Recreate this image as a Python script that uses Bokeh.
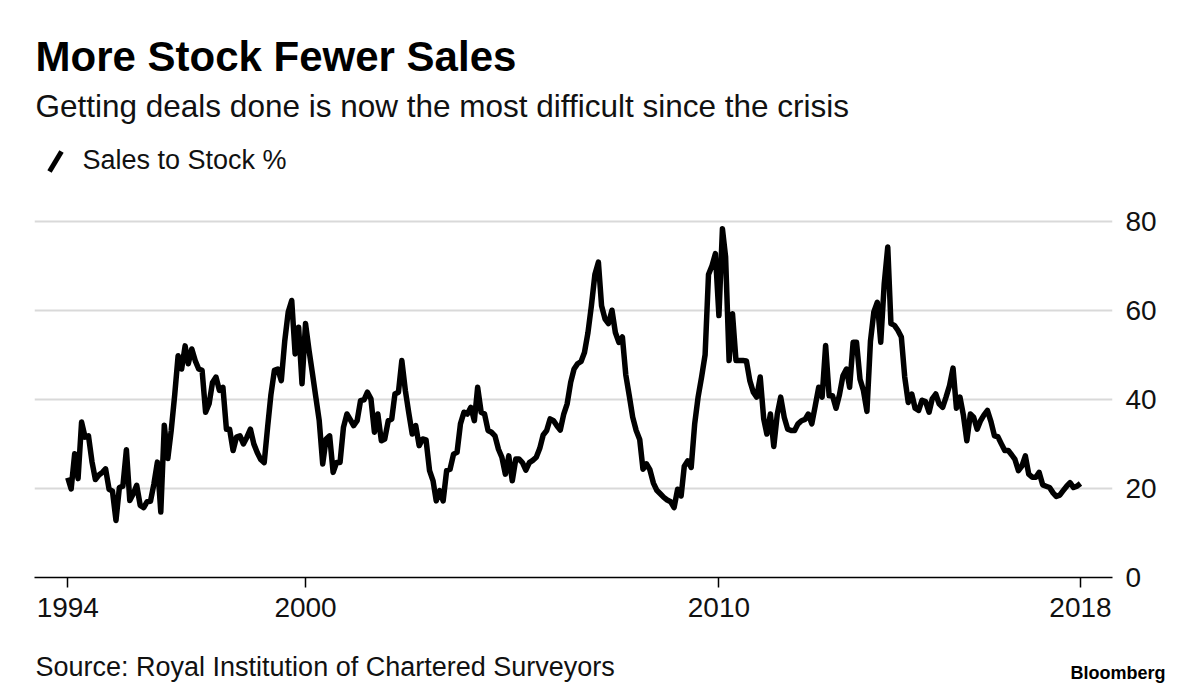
import pandas as pd
from bokeh.plotting import figure
from bokeh.layouts import column
from bokeh.models import Range1d, FixedTicker, DatetimeTickFormatter
from bokeh.core.properties import value
from bokeh.embed import file_html
from bokeh.resources import INLINE

# ---------------- data ----------------
first_month = "1994-04-01"
sales_to_stock = [
    22.4, 19.9, 27.8, 22.2, 34.9, 31.5, 31.8, 26.0, 22.0, 23.0,
    23.6, 24.4, 19.8, 19.4, 12.8, 20.2, 20.5, 28.7, 17.3, 18.8,
    20.7, 16.2, 15.7, 17.0, 17.1, 21.0, 25.9, 14.7, 34.2, 26.7,
    33.0, 41.0, 49.8, 46.8, 52.0, 48.0, 51.3, 48.7, 46.8, 46.5,
    37.1, 39.0, 43.8, 45.0, 42.0, 42.7, 33.3, 33.3, 28.5, 31.5,
    31.8, 30.0, 31.5, 33.3, 30.0, 28.0, 26.5, 25.8, 34.0, 41.0,
    46.5, 46.8, 44.2, 53.0, 59.6, 62.2, 50.2, 56.2, 43.5, 57.0,
    51.0, 46.0, 40.5, 35.2, 25.5, 31.1, 31.8, 23.6, 25.8, 25.8,
    33.7, 36.7, 35.4, 34.1, 35.2, 39.7, 39.9, 41.6, 40.1, 32.6,
    36.7, 30.7, 31.1, 35.2, 35.6, 41.2, 41.6, 48.7, 42.0, 37.0,
    32.2, 34.1, 29.6, 31.1, 30.9, 24.0, 21.7, 17.2, 19.5, 17.2,
    24.0, 24.3, 27.7, 28.1, 34.5, 37.1, 36.7, 38.2, 35.2, 42.7,
    37.1, 36.7, 33.0, 32.6, 31.8, 28.8, 27.0, 23.2, 27.3, 21.7,
    26.6, 26.6, 25.8, 24.1, 25.8, 26.3, 27.0, 29.0, 32.0, 33.0,
    35.6, 35.2, 34.0, 33.1, 36.7, 39.0, 43.8, 46.8, 48.0, 48.5,
    50.5, 55.0, 61.0, 68.0, 70.8, 61.0, 58.0, 57.0, 60.0, 55.0,
    52.8, 54.0, 45.5, 40.8, 36.0, 33.0, 31.0, 24.3, 25.5, 24.2,
    21.2, 19.6, 18.8, 18.0, 17.4, 17.0, 15.7, 19.8, 18.3, 25.0,
    26.2, 24.7, 34.5, 40.5, 45.0, 50.0, 68.0, 70.0, 72.7, 58.8,
    78.3, 72.0, 48.7, 59.2, 48.7, 48.7, 48.7, 48.6, 44.2, 41.6,
    40.5, 45.0, 35.6, 32.2, 36.7, 29.4, 36.7, 40.5, 36.0, 33.3,
    33.0, 33.0, 34.5, 35.2, 35.5, 36.7, 34.5, 38.5, 42.7, 40.5,
    52.1, 40.8, 40.8, 38.0, 41.0, 45.3, 46.8, 42.7, 52.8, 52.8,
    44.5, 42.0, 37.3, 53.0, 59.6, 61.8, 52.8, 66.0, 74.2, 57.0,
    56.6, 55.5, 54.0, 45.0, 39.3, 41.2, 38.0, 37.5, 39.8, 39.5,
    37.1, 40.1, 41.2, 39.0, 38.2, 40.5, 43.1, 47.0, 38.0, 40.5,
    36.5, 30.7, 36.7, 36.0, 33.3, 35.2, 36.5, 37.5, 35.0, 31.8,
    31.6, 30.0, 28.5, 28.5, 27.5, 26.5, 24.0, 25.0, 27.3, 23.2,
    22.5, 22.5, 23.6, 20.8, 20.5, 20.2, 19.0, 18.2, 18.5, 19.5,
    20.5, 21.3, 20.2, 20.5, 21.1,
]
x_tick_dates = ["1994-04-01", "2000-01-01", "2010-01-01", "2018-10-01"]
y_ticks = [0, 20, 40, 60, 80]

title_text = "More Stock Fewer Sales"
subtitle_text = "Getting deals done is now the most difficult since the crisis"
legend_text = "Sales to Stock %"
source_text = "Source: Royal Institution of Chartered Surveyors"
brand_text = "Bloomberg"

dates = pd.date_range(first_month, periods=len(sales_to_stock), freq="MS")


def ms(d):
    return pd.Timestamp(d).timestamp() * 1000.0


FONT = "Liberation Sans"
W = 1184
HEAD_H, MAIN_H, FOOT_H = 200, 437, 53


def no_frame_align(f):
    if "frame_align" in f.properties():
        f.frame_align = False


def text_panel(h):
    f = figure(width=W, height=h, output_backend="svg", toolbar_location=None,
               x_axis_location=None, y_axis_location=None, title=None,
               x_range=Range1d(0, W), y_range=Range1d(h, 0), min_border=0)
    f.outline_line_color = None
    f.xgrid.visible = False
    f.ygrid.visible = False
    f.background_fill_color = "white"
    f.border_fill_color = "white"
    no_frame_align(f)
    return f


def put(f, x, y, text, size, bold=False, align="left", color="#111111"):
    f.text(x=[x], y=[y], text=[text], text_font=value(FONT),
           text_font_style="bold" if bold else "normal", text_font_size=size,
           text_color=color, text_baseline="alphabetic", text_align=align)


# ---------------- header ----------------
head = text_panel(HEAD_H)
put(head, 35, 56, title_text, "42px", bold=True, color="black")
put(head, 35, 105, subtitle_text, "31.5px")
head.line(x=[49, 61], y=[171, 151], line_color="black", line_width=5)
put(head, 82, 159, legend_text, "27px")

# ---------------- main chart ----------------
p = figure(
    width=W, height=MAIN_H, output_backend="svg", toolbar_location=None,
    x_axis_type="datetime", y_axis_location="right", title=None,
    x_range=Range1d(ms("1993-06-11"), ms("2019-07-11")),
    y_range=Range1d(0, 84.64),
    min_border_left=34, min_border_right=72, min_border_top=0, min_border_bottom=60,
)
no_frame_align(p)
p.outline_line_color = None
p.background_fill_color = "white"
p.border_fill_color = "white"

p.line(dates, sales_to_stock, line_color="black", line_width=5.5, line_join="round")

xa = p.xaxis[0]
xa.ticker = FixedTicker(ticks=[ms(d) for d in x_tick_dates])
xa.formatter = DatetimeTickFormatter(years="%Y", months="%Y", days="%Y", hours="%Y",
                                     minutes="%Y", seconds="%Y", milliseconds="%Y",
                                     microseconds="%Y", hourmin="%Y", minsec="%Y")
xa.axis_line_color = "black"
xa.axis_line_width = 1.5
xa.major_tick_line_color = "black"
xa.major_tick_line_width = 1.5
xa.major_tick_out = 10
xa.major_tick_in = 0
xa.minor_tick_line_color = None
xa.major_label_text_font = FONT
xa.major_label_text_font_size = "28px"
xa.major_label_text_color = "#111111"
xa.major_label_standoff = 10

ya = p.yaxis[0]
ya.ticker = FixedTicker(ticks=y_ticks)
ya.axis_line_color = None
ya.major_tick_line_color = None
ya.minor_tick_line_color = None
ya.major_label_text_font = FONT
ya.major_label_text_font_size = "28px"
ya.major_label_text_color = "#111111"
ya.major_label_standoff = 7

p.xgrid.grid_line_color = None
p.ygrid.ticker = FixedTicker(ticks=y_ticks)
p.ygrid.grid_line_color = "#d9d9d9"
p.ygrid.grid_line_width = 2

# ---------------- footer ----------------
foot = text_panel(FOOT_H)
put(foot, 35, 29, source_text, "27px")
put(foot, 1165, 35, brand_text, "18px", bold=True, align="right", color="black")

layout = column(head, p, foot, spacing=0)
open("out.html", "w").write(file_html(layout, INLINE))
